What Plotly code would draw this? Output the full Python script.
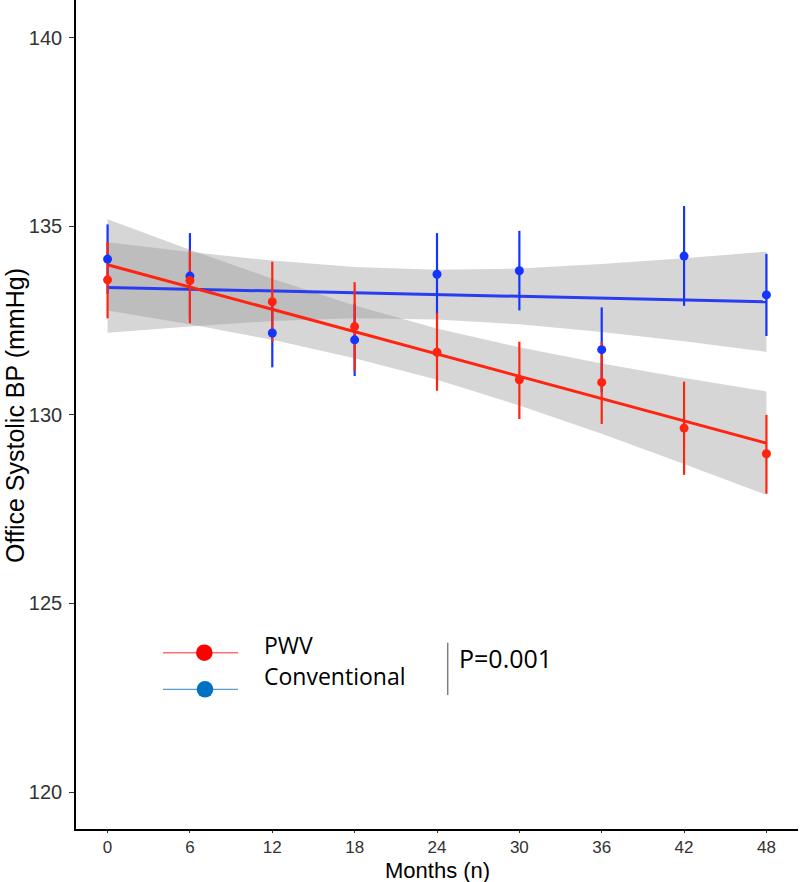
import plotly.graph_objects as go

# ---------------- data ----------------
months = [0, 6, 12, 18, 24, 30, 36, 42, 48]

pwv_mean = [133.58, 133.56, 133.00, 132.34, 131.66, 130.93, 130.86, 129.65, 128.97]
pwv_upper = [134.59, 134.37, 134.06, 133.52, 132.71, 131.94, 131.94, 130.88, 130.00]
pwv_lower = [132.56, 132.43, 131.94, 131.17, 130.64, 129.89, 129.76, 128.41, 127.91]

conv_mean = [134.13, 133.68, 132.17, 131.99, 133.73, 133.82, 131.73, 134.21, 133.18]
conv_upper = [135.05, 134.82, 133.08, 132.95, 134.82, 134.88, 132.85, 135.54, 134.27]
conv_lower = [133.21, 132.54, 131.26, 131.03, 132.64, 132.77, 130.61, 132.89, 132.09]

# linear-fit lines and their confidence bands, read at each month
pwv_fit = [133.98, 133.39, 132.80, 132.20, 131.61, 131.02, 130.43, 129.84, 129.25]
pwv_band_lo = [132.77, 132.40, 131.99, 131.50, 130.93, 130.25, 129.50, 128.70, 127.88]
pwv_band_hi = [135.19, 134.38, 133.61, 132.90, 132.29, 131.79, 131.36, 130.98, 130.62]

conv_fit = [133.38, 133.33, 133.29, 133.24, 133.19, 133.14, 133.10, 133.05, 133.00]
conv_band_lo = [132.18, 132.34, 132.49, 132.56, 132.53, 132.40, 132.20, 131.95, 131.67]
conv_band_hi = [134.58, 134.32, 134.09, 133.92, 133.85, 133.88, 134.00, 134.15, 134.33]

x_ticks = [0, 6, 12, 18, 24, 30, 36, 42, 48]
y_ticks = [120, 125, 130, 135, 140]

series_names = ["PWV", "Conventional"]
p_text = "P=0.001"
x_title = "Months (n)"
y_title = "Office Systolic BP (mmHg)"

# ---------------- styles ----------------
RED = "#FF2410"
BLUE = "#1535FF"
BLUE_LINE = "#2A3CF0"
BAND = "rgba(153,153,153,0.4)"
FONT = "Liberation Sans, Arial, sans-serif"
LEG_FONT = "Open Sans, sans-serif"

fig = go.Figure()

def add_band(lo, hi):
    fig.add_trace(go.Scatter(
        x=months + months[::-1], y=hi + lo[::-1],
        fill="toself", fillcolor=BAND, line=dict(width=0),
        mode="lines", hoverinfo="skip", showlegend=False))

add_band(conv_band_lo, conv_band_hi)
add_band(pwv_band_lo, pwv_band_hi)

fig.add_trace(go.Scatter(x=months, y=conv_fit, mode="lines",
                         line=dict(color=BLUE_LINE, width=3), showlegend=False))
fig.add_trace(go.Scatter(x=months, y=pwv_fit, mode="lines",
                         line=dict(color=RED, width=3), showlegend=False))

def add_errbars(mean, lo, hi, color):
    plus = [h - m for h, m in zip(hi, mean)]
    minus = [m - l for m, l in zip(mean, lo)]
    fig.add_trace(go.Scatter(
        x=months, y=mean, mode="markers",
        marker=dict(size=1, color="rgba(0,0,0,0)"),
        error_y=dict(type="data", array=plus, arrayminus=minus,
                     color=color, thickness=2.2, width=0),
        showlegend=False))

add_errbars(conv_mean, conv_lower, conv_upper, BLUE)
add_errbars(pwv_mean, pwv_lower, pwv_upper, RED)

fig.add_trace(go.Scatter(x=months, y=conv_mean, mode="markers", name=series_names[1],
                         marker=dict(size=9, color=BLUE), showlegend=False))
fig.add_trace(go.Scatter(x=months, y=pwv_mean, mode="markers", name=series_names[0],
                         marker=dict(size=9, color=RED), showlegend=False))

# ---------------- custom legend (pixel layout -> paper coords) ----------------
L, R, T, B = 76, 2, 0, 53
W, H = 800, 882
PW, PH = W - L - R, H - T - B

def px(x):
    return (x - L) / PW

def py(y):
    return (H - B - y) / PH

shapes = []
shapes.append(dict(type="line", xref="paper", yref="paper",
                   x0=px(163), x1=px(238), y0=py(652.7), y1=py(652.7),
                   line=dict(color="#FF6F6F", width=1.5)))
shapes.append(dict(type="circle", xref="paper", yref="paper",
                   x0=px(196), x1=px(212.6), y0=py(661), y1=py(644.4),
                   fillcolor="#FF0000", line=dict(width=0)))
shapes.append(dict(type="line", xref="paper", yref="paper",
                   x0=px(163), x1=px(238), y0=py(689.3), y1=py(689.3),
                   line=dict(color="#5B9BD5", width=1.2)))
shapes.append(dict(type="circle", xref="paper", yref="paper",
                   x0=px(196.7), x1=px(213.3), y0=py(697.6), y1=py(681),
                   fillcolor="#0070C0", line=dict(width=0)))
shapes.append(dict(type="line", xref="paper", yref="paper",
                   x0=px(447.7), x1=px(447.7), y0=py(695), y1=py(642.7),
                   line=dict(color="#808080", width=1.5)))

annotations = [
    dict(text=series_names[0], xref="paper", yref="paper", x=px(262), y=py(645),
         xanchor="left", yanchor="middle", showarrow=False,
         font=dict(family=LEG_FONT, size=23, color="black")),
    dict(text=series_names[1], xref="paper", yref="paper", x=px(262), y=py(676),
         xanchor="left", yanchor="middle", showarrow=False,
         font=dict(family=LEG_FONT, size=23, color="black")),
    dict(text=p_text, xref="paper", yref="paper", x=px(457), y=py(658),
         xanchor="left", yanchor="middle", showarrow=False,
         font=dict(family=LEG_FONT, size=25, color="black")),
    # axis titles
    dict(text=x_title, xref="paper", yref="paper", x=px(437), y=py(870),
         xanchor="center", yanchor="middle", showarrow=False,
         font=dict(family=FONT, size=22, color="black")),
    dict(text=y_title, xref="paper", yref="paper", x=px(15), y=py(416),
         xanchor="center", yanchor="middle", showarrow=False, textangle=-90,
         font=dict(family=FONT, size=25, color="black")),
]

fig.update_layout(
    width=W, height=H,
    margin=dict(l=L, r=R, t=T, b=B, pad=0, autoexpand=False),
    plot_bgcolor="white", paper_bgcolor="white",
    showlegend=False,
    shapes=shapes, annotations=annotations,
    font=dict(family=FONT, color="#333333"),
)

fig.update_xaxes(
    range=[-2.3, 50.3], tickvals=x_ticks, ticktext=[str(v) for v in x_ticks],
    showgrid=False, zeroline=False, showline=True, linecolor="black", linewidth=1.6,
    ticks="outside", ticklen=2, tickwidth=1.2, tickcolor="#333333",
    tickfont=dict(size=17, color="#333333", family=FONT), automargin=False,
)
fig.update_yaxes(
    range=[119.02, 141.0], tickvals=y_ticks, ticktext=[str(v) for v in y_ticks],
    showgrid=False, zeroline=False, showline=True, linecolor="black", linewidth=1.6,
    ticks="outside", ticklen=5, tickwidth=1.2, tickcolor="#333333",
    tickfont=dict(size=20, color="#333333", family=FONT), ticklabelstandoff=3,
    automargin=False,
)

fig.write_html(
    "out.html",
    config={"displayModeBar": False},
    post_script="document.body.style.margin='0px';document.body.style.overflow='hidden';",
)
